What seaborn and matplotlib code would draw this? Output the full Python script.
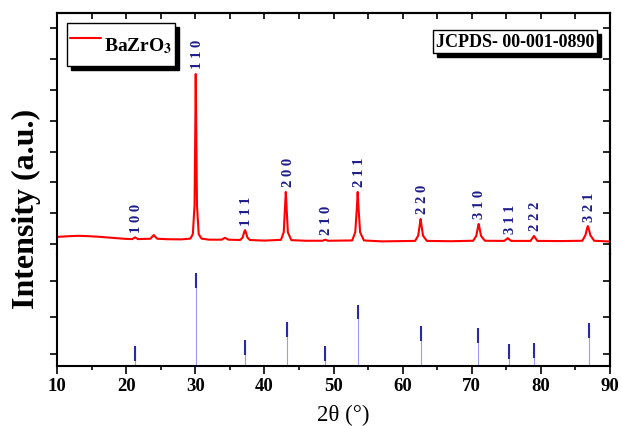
import numpy as np
import pandas as pd
import matplotlib
matplotlib.use("Agg")
import matplotlib.pyplot as plt
from matplotlib.patches import Rectangle
from matplotlib.ticker import MultipleLocator
import seaborn as sns

two_theta = [10.0, 11.5, 13.0, 14.5, 16.0, 18.0, 20.0, 20.9, 21.3, 21.7,
             23.5, 24.0, 24.5, 26.0, 28.0, 29.3, 29.65, 29.9, 30.0, 30.07,
             30.15, 30.25, 30.5, 30.9, 32.0, 33.8, 34.3, 34.8, 36.5, 36.85,
             37.1, 37.2, 37.3, 37.55, 37.9, 40.0, 42.4, 42.8, 43.0, 43.1,
             43.2, 43.4, 43.9, 46.0, 48.4, 48.8, 49.2, 52.7, 53.15, 53.4,
             53.5, 53.6, 53.85, 54.4, 57.0, 61.8, 62.25, 62.5, 62.6, 62.7,
             62.95, 63.5, 67.0, 70.2, 70.65, 70.9, 71.0, 71.1, 71.35, 71.9,
             74.7, 75.2, 75.7, 78.5, 79.0, 79.5, 83.0, 86.0, 86.45, 86.7,
             86.8, 86.9, 87.15, 87.7, 90.0]
counts = [230, 250, 265, 255, 235, 200, 165, 160, 215, 160,
          170, 290, 170, 155, 150, 175, 320, 1250, 3600, 5520,
          3600, 1250, 320, 175, 140, 140, 200, 140, 130, 210,
          400, 450, 400, 210, 130, 110, 135, 380, 1250, 1690,
          1250, 380, 125, 105, 105, 140, 105, 115, 380, 1250,
          1690, 1250, 380, 115, 85, 100, 270, 650, 810, 650,
          270, 100, 90, 105, 260, 550, 650, 550, 260, 105,
          100, 190, 100, 100, 260, 100, 95, 105, 290, 520,
          580, 520, 290, 105, 80]

# --- reference pattern JCPDS 00-001-0890 ---
ref_pos = [21.3, 30.15, 37.25, 43.25, 48.75, 53.6, 62.7, 70.85, 75.35, 79.05, 86.9]
ref_int = [21.5, 100, 28, 47, 21.5, 66, 43, 41, 24, 25, 46]
hkl = ["1 0 0", "1 1 0", "1 1 1", "2 0 0", "2 1 0", "2 1 1",
       "2 2 0", "3 1 0", "3 1 1", "2 2 2", "3 2 1"]

sns.set_style("ticks")
plt.rcParams["font.family"] = ["Liberation Serif", "DejaVu Serif"]
plt.rcParams["mathtext.fontset"] = "stix"
plt.rcParams["axes.edgecolor"] = "black"
plt.rcParams["axes.linewidth"] = 1.5
plt.rcParams["xtick.color"] = "black"
plt.rcParams["ytick.color"] = "black"
plt.rcParams["text.color"] = "black"

fig = plt.figure(figsize=(6.22, 4.27), dpi=100)
W, H = 622, 427
left, right, top, split, bottom = 57, 610, 14, 255, 367
ax = fig.add_axes([left / W, 1 - split / H, (right - left) / W, (split - top) / H])
ax_ref = fig.add_axes([left / W, 1 - bottom / H, (right - left) / W, (bottom - split) / H])

# upper panel: measured pattern
df = pd.DataFrame({"2theta": two_theta, "counts": counts})
sns.lineplot(data=df, x="2theta", y="counts", ax=ax, color="red", lw=1.5,
             estimator=None, sort=False, label=r"BaZrO$_\mathbf{3}$")
ax.set_xlim(10, 90)
ax.set_ylim(-325, 7500)
ax.set_yticks(np.arange(0, 7001, 1000))
ax.set_xlabel("")
ax.set_ylabel("")
ax.spines["bottom"].set_visible(False)
ax.tick_params(axis="x", which="both", bottom=False, labelbottom=False)
ax.tick_params(axis="y", direction="out", length=5, width=1.2, labelleft=False)
sec_top = ax.secondary_xaxis("top")
sec_top.xaxis.set_major_locator(MultipleLocator(5))
sec_top.tick_params(direction="in", length=4, width=1.2, labeltop=False)
sec_r = ax.secondary_yaxis("right")
sec_r.set_yticks(np.arange(0, 7001, 1000))
sec_r.tick_params(direction="in", length=5, width=1.2, labelright=False)

# hkl labels above the peaks
tt = np.array(two_theta)
cc = np.array(counts)
for pos, lab in zip(ref_pos, hkl):
    peak = cc[np.abs(tt - pos) <= 0.35].max()
    ax.annotate(lab, (pos, peak), xytext=(1, 4), textcoords="offset points",
                rotation=90, ha="center", va="bottom", fontsize=10.5,
                weight="bold", color="#1c1c8c")

leg = ax.legend(loc="upper left", frameon=True, fancybox=False, edgecolor="black",
                framealpha=1, shadow=False,
                prop={"weight": "bold", "size": 14}, handlelength=1.6,
                handleheight=2.6, borderpad=0.15, handletextpad=0.15,
                borderaxespad=0.5)
leg.get_frame().set_linewidth(1.0)

# JCPDS tag
tag = ax.text(0.828, 0.882, "JCPDS- 00-001-0890", transform=ax.transAxes,
              ha="center", va="center", fontsize=13, weight="bold",
              bbox=dict(boxstyle="square,pad=0.15", fc="white", ec="black", lw=1.0),
              zorder=6)

# lower panel: reference sticks
ax_ref.vlines(ref_pos, 0, ref_int, color="#9a9af2", lw=0.8)
ax_ref.vlines(ref_pos, np.maximum(np.array(ref_int) - 16, 0), ref_int,
              color="#2a2aa5", lw=1.5)
ax_ref.set_xlim(10, 90)
ax_ref.set_ylim(0, 120.4)
ax_ref.set_yticks([12.9, 52.7, 91.4])
ax_ref.spines["top"].set_visible(False)
ax_ref.xaxis.set_major_locator(MultipleLocator(10))
ax_ref.xaxis.set_minor_locator(MultipleLocator(5))
ax_ref.tick_params(axis="x", which="major", direction="out", length=6, width=1.2,
                   labelsize=13.5, pad=2)
ax_ref.tick_params(axis="x", which="minor", direction="out", length=3, width=1.2)
ax_ref.tick_params(axis="y", direction="out", length=5, width=1.2, labelleft=False)
for t in ax_ref.get_xticklabels():
    t.set_fontweight("bold")
sec_r2 = ax_ref.secondary_yaxis("right")
sec_r2.set_yticks([12.9, 52.7, 91.4])
sec_r2.tick_params(direction="in", length=5, width=1.2, labelright=False)

fig.text(26 / W, 1 - 209 / H, "Intensity (a.u.)", rotation=90, fontsize=23,
         weight="bold", ha="center", va="center")
fig.text(343 / W, 1 - 415 / H, "2θ (°)", fontsize=16.5, ha="center", va="center")

# hard black shadows behind the legend box and the JCPDS tag
fig.canvas.draw()
for bb, z in [(leg.get_frame().get_window_extent(), 4.9),
              (tag.get_bbox_patch().get_window_extent(), 5.9)]:
    ax.add_patch(Rectangle((bb.x0 + 4, bb.y0 - 4), bb.width, bb.height,
                           transform=None, fc="black", ec="black",
                           clip_on=False, zorder=z))

fig.savefig("out.png", dpi=100)
